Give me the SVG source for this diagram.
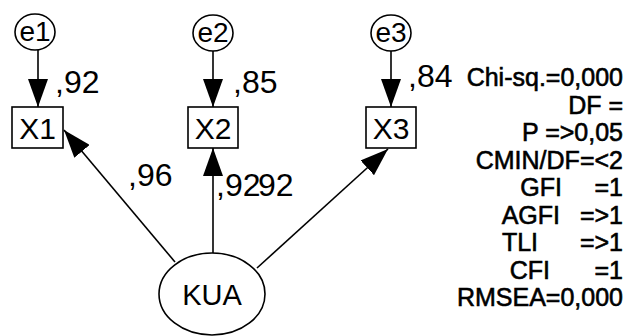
<svg xmlns="http://www.w3.org/2000/svg" width="625" height="336" viewBox="0 0 625 336">
<style>
.n{fill:#fff;stroke:#000;stroke-width:1.6}
.t{font-family:"Liberation Sans",Arial,sans-serif;fill:#000;text-anchor:middle}
.c{stroke:#000;stroke-width:1.6;fill:none}
.lbl{font-family:"Liberation Sans",Arial,sans-serif;font-size:32px;fill:#000}
.st{font-family:"Liberation Sans",Arial,sans-serif;font-size:25px;fill:#000;stroke:#000;stroke-width:0.6;text-anchor:end}
</style>
<defs>
<marker id="ah" markerUnits="userSpaceOnUse" markerWidth="28" markerHeight="20" refX="28" refY="10" orient="auto"><path d="M0,0 L28,10 L0,20 z" fill="#000"/></marker>
</defs>
<rect width="625" height="336" fill="#fff"/>
<g id="connectors">
<line class="c" x1="38" y1="50" x2="38" y2="107" marker-end="url(#ah)"/>
<line class="c" x1="213" y1="51" x2="213" y2="107" marker-end="url(#ah)"/>
<line class="c" x1="391" y1="51" x2="391" y2="107" marker-end="url(#ah)"/>
<line class="c" x1="175" y1="262" x2="64" y2="130" marker-end="url(#ah)"/>
<line class="c" x1="213" y1="253" x2="213" y2="148" marker-end="url(#ah)"/>
<line class="c" x1="257" y1="268" x2="388" y2="149" marker-end="url(#ah)"/>
</g>
<g id="e1"><ellipse class="n" cx="35" cy="32" rx="20" ry="18"/><text class="t" x="35" y="41" font-size="28">e1</text></g>
<g id="e2"><ellipse class="n" cx="213" cy="33" rx="20" ry="18"/><text class="t" x="213" y="42" font-size="28">e2</text></g>
<g id="e3"><ellipse class="n" cx="391" cy="33" rx="20" ry="18"/><text class="t" x="391" y="42" font-size="28">e3</text></g>
<g id="X1"><rect class="n" x="12" y="107" width="51" height="41"/><text class="t" x="37.5" y="139" font-size="30">X1</text></g>
<g id="X2"><rect class="n" x="188" y="107" width="50" height="41"/><text class="t" x="213" y="139" font-size="30">X2</text></g>
<g id="X3"><rect class="n" x="366" y="107" width="50" height="41"/><text class="t" x="391" y="139" font-size="30">X3</text></g>
<g id="KUA"><ellipse class="n" cx="212" cy="294" rx="53" ry="41"/><text class="t" x="212" y="305" font-size="29">KUA</text></g>
<g id="labels">
<text class="lbl" x="55" y="93">,92</text>
<text class="lbl" x="233" y="93">,85</text>
<text class="lbl" x="408" y="87">,84</text>
<text class="lbl" x="128" y="186">,96</text>
<text class="lbl" x="216" y="196">,92</text>
<text class="lbl" x="258" y="196">92</text>
</g>
<g id="fit">
<text class="st" x="623" y="86">Chi-sq.=0,000</text>
<text class="st" x="623" y="113.5">DF =</text>
<text class="st" x="623" y="141">P =&gt;0,05</text>
<text class="st" x="623" y="168.5">CMIN/DF=&lt;2</text>
<text class="st" x="562" y="196">GFI</text><text class="st" x="623" y="196">=1</text>
<text class="st" x="560" y="223.5">AGFI</text><text class="st" x="623" y="223.5">=&gt;1</text>
<text class="st" x="538" y="251">TLI</text><text class="st" x="623" y="251">=&gt;1</text>
<text class="st" x="550" y="278.5">CFI</text><text class="st" x="623" y="278.5">=1</text>
<text class="st" x="623" y="306">RMSEA=0,000</text>
</g>
</svg>
